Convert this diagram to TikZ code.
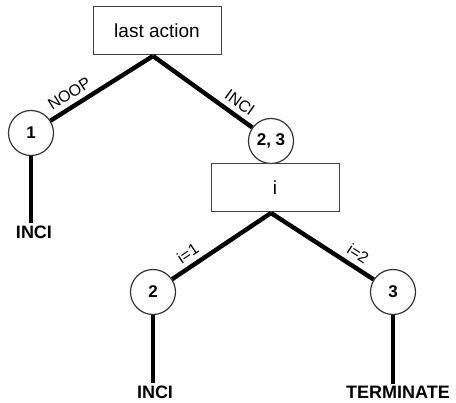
\documentclass[tikz,border=0pt]{standalone}
\usepackage{fontspec}
\setmainfont{Liberation Sans}
\begin{document}
\begin{tikzpicture}[x=1pt,y=-1pt,
  box/.style={draw=black!75, line width=1pt, minimum width=128pt, minimum height=48pt, inner sep=0pt, font=\fontsize{19}{22}\selectfont},
  circ/.style={draw=black!80, line width=1.2pt, circle, minimum size=45pt, inner sep=0pt, font=\bfseries\fontsize{17}{20}\selectfont},
  leaf/.style={inner sep=2pt, font=\bfseries\fontsize{18}{21}\selectfont},
  edge/.style={line width=4.4pt},
  lbl/.style={sloped, above, inner sep=5pt, font=\fontsize{16}{19}\selectfont}]
\useasboundingbox (0,0) rectangle (456,403);
\node[box] (la) at (157,31) {last action};
\node[circ] (c1) at (31,133) {1};
\node[circ] (c23) at (271,141) {2, 3};
\node[box] (ib) at (275,188) {i};
\node[circ] (c2) at (153,292) {2};
\node[circ] (c3) at (393,292) {3};
\node[leaf] (l1) at (34,232) {INCI};
\node[leaf] (l2) at (155,392) {INCI};
\node[leaf] (l3) at (398,392) {TERMINATE};
\coordinate (a1) at (153,56);
\coordinate (a2) at (271,213);
\draw[edge] (a1) -- node[lbl, pos=0.75] {NOOP} (c1);
\draw[edge] (a1) -- node[lbl, pos=0.8] {INCI} (c23);
\draw[edge] (a2) -- node[lbl, pos=0.77] {i=1} (c2);
\draw[edge] (a2) -- node[lbl, pos=0.78] {i=2} (c3);
\draw[edge, line width=4pt] (c1) -- (l1.north -| c1);
\draw[edge, line width=4pt] (c2) -- (l2.north -| c2);
\draw[edge, line width=4pt] (c3) -- (l3.north -| c3);
\end{tikzpicture}
\end{document}
